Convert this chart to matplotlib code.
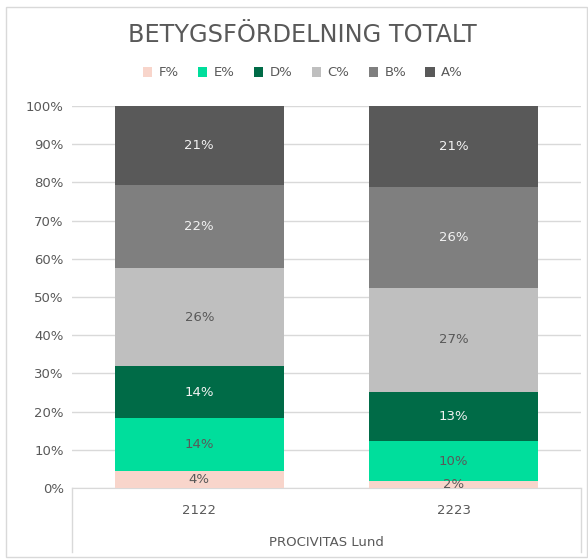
import matplotlib
matplotlib.use("Agg")
import matplotlib.pyplot as plt
from matplotlib.lines import Line2D
from matplotlib.patches import Rectangle
import numpy as np

categories = ["2122", "2223"]
group_label = "PROCIVITAS Lund"
series_names = ["F%", "E%", "D%", "C%", "B%", "A%"]
F = [4.4, 1.8]
E = [13.9, 10.4]
D = [13.6, 13.0]
C = [25.6, 27.1]
B = [21.9, 26.4]
A = [20.6, 21.3]
series_values = [F, E, D, C, B, A]
colors = ["#F8D5CB", "#00DE9C", "#006B47", "#BFBFBF", "#7F7F7F", "#595959"]
label_colors = ["#595959", "#595959", "#F2F2F2", "#595959", "#F2F2F2", "#F2F2F2"]
yticks = [0, 10, 20, 30, 40, 50, 60, 70, 80, 90, 100]

plt.rcParams['font.family'] = ['DejaVu Sans']
W, H = 588, 559
fig = plt.figure(figsize=(W/100, H/100), dpi=100)
ax = fig.add_axes([72/W, 1-488/H, (581-72)/W, (488-106)/H])

x = np.arange(len(categories))
bottom = np.zeros(len(categories))
for name, vals, col, lc in zip(series_names, series_values, colors, label_colors):
    vals = np.array(vals)
    ax.bar(x, vals, width=0.665, bottom=bottom, color=col, label=name, zorder=3)
    for xi, v, b in zip(x, vals, bottom):
        ax.text(xi, b + v/2, f"{int(round(v))}%", ha="center", va="center",
                fontsize=9.5, color=lc, zorder=4)
    bottom += vals

ax.set_xlim(-0.5, len(categories) - 0.5)
ax.set_ylim(0, 100)
ax.set_yticks(yticks)
ax.set_yticklabels([f"{t}%" for t in yticks], fontsize=9.5, color="#595959")
ax.tick_params(axis="y", length=0, pad=6)
ax.set_xticks([])
ax.grid(axis="y", color="#D9D9D9", linewidth=1, zorder=0)
for s in ["top", "right", "left"]:
    ax.spines[s].set_visible(False)
ax.spines["bottom"].set_color("#D9D9D9")

# category labels
for xi, c in zip(x, categories):
    ax.text(xi, -(510-488)/(488-106), c, transform=ax.get_xaxis_transform(),
            ha="center", va="center", fontsize=9.5, color="#595959")
ax.text(0.5, -(542-488)/(488-106), group_label, transform=ax.transAxes,
        ha="center", va="center", fontsize=9.5, color="#595959")

# category box lines
for xp in [72, 581]:
    fig.add_artist(Line2D([xp/W, xp/W], [1-488/H, 1-552/H], color="#D9D9D9", linewidth=1))

# outer border
fig.add_artist(Rectangle((6/W, 1-557/H), (587-6)/W, (557-7)/H, transform=fig.transFigure,
                         fill=False, edgecolor="#D9D9D9", linewidth=1))

fig.text(302/W, 1-35/H, "BETYGSFÖRDELNING TOTALT", ha="center", va="center",
         fontsize=17.3, color="#595959")

fig.legend(loc="center", bbox_to_anchor=(303/W, 1-73/H), ncol=6, frameon=False,
           fontsize=9.5, handlelength=0.7, handleheight=0.7, handletextpad=0.5,
           columnspacing=1.45, labelcolor="#595959")

fig.savefig("out.png", dpi=100)
